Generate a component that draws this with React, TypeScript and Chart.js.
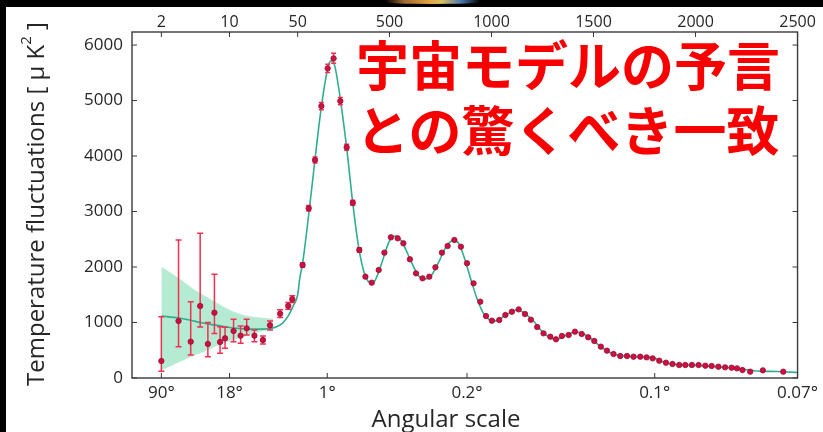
import React, { useEffect, useRef } from 'react';
import { Chart, registerables } from 'chart.js';

Chart.register(...registerables);

// ---- hybrid multipole axis (log below l=50, linear above) ----
const SPLIT_L = 50;
const LOG_UNITS_PER_DECADE = 478;
const X_MIN_L = 1;
const X_MAX_L = 2500;
const Y_MAX = 6235;

const toU = (l: number) => (l >= SPLIT_L ? l : SPLIT_L + LOG_UNITS_PER_DECADE * Math.log10(l / SPLIT_L));

// ---- tick labels ----
const topTickL = [2, 10, 50, 500, 1000, 1500, 2000, 2500];
const topTickLabels = ['2', '10', '50', '500', '1000', '1500', '2000', '2500'];
const angleTickL = [2, 10, 195, 880, 1800, 2500];
const angleTickLabels = ['90°', '18°', '1°', '0.2°', '0.1°', '0.07°'];
const yTicks = [0, 1000, 2000, 3000, 4000, 5000, 6000];

// ---- low-l data points with asymmetric error bars ----
const lowL = [2, 3, 4, 5, 6, 7, 8, 9, 11, 13, 15, 18, 22, 26, 33, 40, 44];
const lowD = [306, 1027, 655, 1297, 613, 1177, 649, 715, 847, 763, 895, 763, 685, 950, 1159, 1300, 1420];
const lowLo = [120, 565, 414, 920, 384, 800, 445, 535, 655, 625, 775, 655, 613, 865, 1090, 1240, 1360];
const lowHi = [1105, 2487, 1375, 2607, 1000, 1870, 925, 913, 1057, 937, 1057, 865, 757, 1027, 1230, 1360, 1480];

// ---- high-l binned data points ----
const highL = [74, 104, 135, 166, 197, 226, 259, 290, 320, 352, 382, 413, 447, 475, 507, 540, 568, 600, 630, 662, 695, 725, 757, 785, 818, 850, 880, 912, 945, 973, 1002, 1038, 1068, 1100, 1133, 1164, 1193, 1224, 1255, 1288, 1316, 1345, 1378, 1409, 1442, 1474, 1504, 1536, 1566, 1598, 1631, 1664, 1696, 1729, 1760, 1790, 1822, 1855, 1887, 1920, 1950, 1982, 2015, 2048, 2079, 2112, 2145, 2177, 2203, 2230, 2268, 2330, 2430];
const highD = [2036, 3058, 3928, 4900, 5580, 5760, 4991, 4157, 3159, 2306, 1826, 1718, 1946, 2259, 2535, 2517, 2427, 2139, 1886, 1796, 1826, 1995, 2259, 2379, 2487, 2366, 2067, 1706, 1375, 1117, 1033, 1045, 1135, 1195, 1237, 1153, 1050, 918, 805, 745, 697, 757, 775, 835, 793, 733, 667, 565, 493, 432, 396, 396, 384, 384, 372, 354, 312, 276, 252, 234, 234, 234, 234, 222, 216, 204, 192, 186, 174, 144, 114, 138, 114];
const highErr = [40, 50, 55, 65, 75, 90, 65, 55, 45, 40];

// ---- model curve ----
const theoryL = [2, 3, 4, 5, 6, 8, 10, 13, 16, 20, 25, 30, 35, 40, 45, 50, 60, 75, 100, 130, 160, 190, 205, 218, 232, 260, 290, 320, 350, 380, 410, 430, 460, 500, 530, 560, 600, 640, 670, 700, 740, 780, 815, 840, 870, 900, 930, 960, 990, 1020, 1060, 1100, 1130, 1160, 1200, 1250, 1290, 1320, 1360, 1410, 1440, 1480, 1520, 1560, 1600, 1650, 1700, 1750, 1800, 1850, 1900, 1950, 2000, 2050, 2100, 2150, 2200, 2250, 2300, 2400, 2500];
const theoryD = [1117, 1080, 1040, 1000, 975, 940, 910, 890, 880, 880, 890, 920, 990, 1120, 1300, 1500, 1790, 2090, 2820, 3780, 4720, 5450, 5680, 5720, 5620, 5000, 4150, 3150, 2330, 1850, 1710, 1760, 2050, 2470, 2560, 2460, 2150, 1850, 1780, 1820, 2080, 2380, 2480, 2420, 2130, 1760, 1420, 1170, 1050, 1030, 1110, 1200, 1230, 1170, 1050, 830, 720, 700, 760, 830, 810, 730, 610, 500, 430, 400, 385, 378, 355, 280, 245, 234, 228, 218, 205, 190, 174, 150, 125, 118, 100];

// ---- cosmic-variance band ----
const bandL = [2, 3, 4, 5, 7, 9, 11, 15, 20, 25, 28];
const bandUpper = [2010, 1800, 1640, 1530, 1380, 1270, 1195, 1120, 1090, 1075, 1065];
const bandLower = [140, 280, 380, 445, 560, 640, 685, 760, 830, 865, 875];

const FONT = "'Open Sans', 'DejaVu Sans', sans-serif";
const TEXT = '#262626';

const pointsL = [...lowL, ...highL];
const pointsD = [...lowD, ...highD];
const errLo: (number | null)[] = [...lowLo, ...highL.map((_, i) => (highErr[i] !== undefined ? highD[i] - highErr[i] : null))];
const errHi: (number | null)[] = [...lowHi, ...highL.map((_, i) => (highErr[i] !== undefined ? highD[i] + highErr[i] : null))];

const errorBarPlugin = {
  id: 'errorBars',
  beforeDatasetDraw(chart: any, args: any) {
    if (args.index !== 0) return;
    const { ctx, scales } = chart;
    ctx.save();
    ctx.strokeStyle = '#f2304f';
    ctx.lineWidth = 1.5;
    pointsL.forEach((l, i) => {
      const lo = errLo[i];
      const hi = errHi[i];
      if (lo === null || hi === null) return;
      const x = scales.x.getPixelForValue(toU(l));
      const y1 = scales.y.getPixelForValue(lo);
      const y2 = scales.y.getPixelForValue(hi);
      ctx.beginPath();
      ctx.moveTo(x, y1);
      ctx.lineTo(x, y2);
      const cap = i < lowL.length ? 3 : 2.5;
      ctx.moveTo(x - cap, y1);
      ctx.lineTo(x + cap, y1);
      ctx.moveTo(x - cap, y2);
      ctx.lineTo(x + cap, y2);
      ctx.stroke();
    });
    ctx.restore();
  },
};

const framePlugin = {
  id: 'frame',
  afterDraw(chart: any) {
    const { ctx, chartArea: a, scales } = chart;
    ctx.save();
    ctx.strokeStyle = '#3a3a3a';
    ctx.lineWidth = 1.4;
    ctx.strokeRect(a.left, a.top, a.right - a.left, a.bottom - a.top);
    ctx.lineWidth = 1;
    const tl = 5;
    ctx.beginPath();
    scales.x.ticks.forEach((t: any) => {
      const px = scales.x.getPixelForValue(t.value);
      ctx.moveTo(px, a.bottom);
      ctx.lineTo(px, a.bottom - tl);
    });
    scales.xTop.ticks.forEach((t: any) => {
      const px = scales.xTop.getPixelForValue(t.value);
      ctx.moveTo(px, a.top);
      ctx.lineTo(px, a.top + tl);
    });
    scales.y.ticks.forEach((t: any) => {
      const py = scales.y.getPixelForValue(t.value);
      ctx.moveTo(a.left, py);
      ctx.lineTo(a.left + tl, py);
      ctx.moveTo(a.right, py);
      ctx.lineTo(a.right - tl, py);
    });
    ctx.stroke();
    ctx.restore();
  },
};

export default function App() {
  const ref = useRef<HTMLCanvasElement>(null);

  useEffect(() => {
    const chart = new Chart(ref.current as HTMLCanvasElement, {
      type: 'scatter',
      data: {
        datasets: [
          {
            label: 'Planck data',
            data: pointsL.map((l, i) => ({ x: toU(l), y: pointsD[i] })),
            pointRadius: 2.7,
            pointBackgroundColor: '#cc1142',
            pointBorderColor: '#a00a32',
            pointBorderWidth: 0.8,
            showLine: false,
          },
          {
            label: 'Model',
            data: theoryL.map((l, i) => ({ x: toU(l), y: theoryD[i] })),
            showLine: true,
            borderColor: '#2fae90',
            borderWidth: 1.6,
            pointRadius: 0,
            cubicInterpolationMode: 'monotone',
          },
          {
            label: 'band upper',
            data: bandL.map((l, i) => ({ x: toU(l), y: bandUpper[i] })),
            showLine: true,
            borderWidth: 0,
            borderColor: 'rgba(0,0,0,0)',
            pointRadius: 0,
            backgroundColor: 'rgba(120, 218, 175, 0.55)',
            fill: '+1',
            cubicInterpolationMode: 'monotone',
          },
          {
            label: 'band lower',
            data: bandL.map((l, i) => ({ x: toU(l), y: bandLower[i] })),
            showLine: true,
            borderWidth: 0,
            borderColor: 'rgba(0,0,0,0)',
            pointRadius: 0,
            cubicInterpolationMode: 'monotone',
          },
        ],
      } as any,
      options: {
        animation: false,
        responsive: false,
        devicePixelRatio: 1,
        layout: { padding: { left: 0, right: 23, top: 0, bottom: 0 } },
        plugins: { legend: { display: false }, tooltip: { enabled: false } },
        scales: {
          x: {
            type: 'linear',
            position: 'bottom',
            min: toU(X_MIN_L),
            max: toU(X_MAX_L),
            afterBuildTicks: (s: any) => {
              s.ticks = angleTickL.map((l) => ({ value: toU(l) }));
            },
            afterFit: (s: any) => {
              s.height = 54;
            },
            ticks: {
              autoSkip: false,
              maxRotation: 0,
              padding: 5,
              color: TEXT,
              font: { family: FONT, size: 17 },
              callback: (_v: any, i: number) => angleTickLabels[i],
            },
            grid: { display: false, drawTicks: false },
            border: { display: false },
          },
          xTop: {
            type: 'linear',
            position: 'top',
            min: toU(X_MIN_L),
            max: toU(X_MAX_L),
            afterBuildTicks: (s: any) => {
              s.ticks = topTickL.map((l) => ({ value: toU(l) }));
            },
            afterFit: (s: any) => {
              s.height = 32;
            },
            ticks: {
              autoSkip: false,
              maxRotation: 0,
              padding: 0,
              color: TEXT,
              font: { family: FONT, size: 16 },
              callback: (_v: any, i: number) => topTickLabels[i],
            },
            grid: { display: false, drawTicks: false },
            border: { display: false },
          },
          y: {
            type: 'linear',
            min: 0,
            max: Y_MAX,
            afterBuildTicks: (s: any) => {
              s.ticks = yTicks.map((v) => ({ value: v }));
            },
            afterFit: (s: any) => {
              s.width = 132;
            },
            ticks: {
              padding: 9,
              color: TEXT,
              font: { family: FONT, size: 17 },
              callback: (v: any) => String(v),
            },
            grid: { display: false, drawTicks: false },
            border: { display: false },
          },
        },
      } as any,
      plugins: [errorBarPlugin, framePlugin],
    });
    return () => chart.destroy();
  }, []);

  return (
    <div
      style={{
        position: 'fixed',
        left: 0,
        top: 0,
        width: 823,
        height: 432,
        background: '#ffffff',
        overflow: 'hidden',
      }}
    >
      <canvas
        ref={ref}
        width={823}
        height={432}
        style={{ position: 'absolute', left: 0, top: 0, width: 823, height: 432 }}
      />
      <div style={{ position: 'absolute', left: 0, top: 0, width: 823, height: 7, background: '#000' }} />
      <div
        style={{
          position: 'absolute',
          left: 385,
          top: 0,
          width: 95,
          height: 4,
          borderRadius: '0 0 50% 50%',
          background: 'linear-gradient(90deg, rgba(0,0,0,0), #a06a30 20%, #e0a040 45%, #d8c060 60%, #4a78b0 80%, rgba(0,0,0,0))',
        }}
      />
      <div style={{ position: 'absolute', left: 0, top: 0, width: 6, height: 432, background: '#000' }} />
      <div
        style={{
          position: 'absolute',
          left: 35,
          top: 204,
          transform: 'translate(-50%, -50%) rotate(-90deg)',
          whiteSpace: 'nowrap',
          fontFamily: FONT,
          fontSize: 24,
          color: TEXT,
          lineHeight: 1,
        }}
      >
        Temperature fluctuations [ μ K<sup style={{ fontSize: 15, verticalAlign: 'top', position: 'relative', top: -5 }}>2</sup> ]
      </div>
      <div
        style={{
          position: 'absolute',
          left: 446,
          top: 418,
          transform: 'translate(-50%, -50%)',
          whiteSpace: 'nowrap',
          fontFamily: FONT,
          fontSize: 24,
          color: TEXT,
          lineHeight: 1,
        }}
      >
        Angular scale
      </div>
      <div
        style={{
          position: 'absolute',
          left: 356,
          top: 31,
          fontFamily: "'Noto Sans CJK JP', sans-serif",
          fontWeight: 700,
          fontSize: 53,
          lineHeight: '65px',
          color: '#f80000',
          whiteSpace: 'nowrap',
        }}
      >
        宇宙モデルの予言
        <br />
        との驚くべき一致
      </div>
    </div>
  );
}
